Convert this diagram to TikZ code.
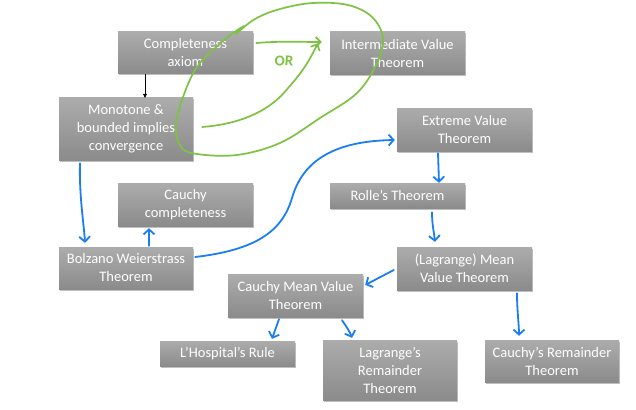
\documentclass[tikz,border=0pt]{standalone}
\usepackage{fontspec}
\setmainfont{Carlito}
\usetikzlibrary{arrows.meta,shadows}
\definecolor{boxtop}{HTML}{ACACAC}
\definecolor{boxbot}{HTML}{8B8B8B}
\definecolor{penB}{HTML}{1A7EF2}
\definecolor{penG}{HTML}{7DC242}
\begin{document}
\begin{tikzpicture}[x=1pt,y=1pt,
  box/.style={rectangle, top color=boxtop, bottom color=boxbot, text=white,
    font=\fontsize{14.5}{18}\selectfont, align=center, inner sep=0pt,
    drop shadow={shadow xshift=1pt, shadow yshift=-1.5pt, opacity=0.25, fill=black}},
  bluearrow/.style={draw=penB, line width=1.8pt, line cap=round, line join=round,
    -{Straight Barb[length=5pt,width=11pt]}},
  greenline/.style={draw=penG, line width=1.7pt, line cap=round, line join=round},
  greenarrow/.style={greenline, -{Straight Barb[length=5pt,width=10pt]}},
  blackarrow/.style={draw=black, line width=0.6pt, -{Triangle[length=4pt,width=4pt]}}
]
\useasboundingbox (0,0) rectangle (636,-409);

\node[box, minimum width=135pt, minimum height=42pt] (comp) at (185.5,-53) {Completeness\\axiom};
\node[box, minimum width=135pt, minimum height=43pt] (ivt) at (397.5,-53.5) {Intermediate Value\\Theorem};
\node[box, minimum width=134pt, minimum height=62pt] (mono) at (126,-129) {Monotone \&\\bounded implies\\convergence};
\node[box, minimum width=135pt, minimum height=43pt] (evt) at (464.5,-129.5) {Extreme Value\\Theorem};
\node[box, minimum width=135pt, minimum height=25pt] (rolle) at (397.5,-195.5) {Rolle’s Theorem};
\node[box, minimum width=135pt, minimum height=43pt] (cc) at (185.5,-204.5) {Cauchy\\completeness};
\node[box, minimum width=134pt, minimum height=42pt] (bw) at (126,-268) {Bolzano Weierstrass\\Theorem};
\node[box, minimum width=135pt, minimum height=43pt] (mvt) at (464.5,-268.5) {(Lagrange) Mean\\Value Theorem};
\node[box, minimum width=135pt, minimum height=43pt] (cmvt) at (295.5,-295.5) {Cauchy Mean Value\\Theorem};
\node[box, minimum width=135pt, minimum height=25pt] (lh) at (227.5,-353.5) {L’Hospital’s Rule};
\node[box, minimum width=134pt, minimum height=60pt] (lr) at (390,-370) {Lagrange’s\\Remainder\\Theorem};
\node[box, minimum width=134pt, minimum height=42pt] (cr) at (552,-361) {Cauchy’s Remainder\\Theorem};

% black arrow
\draw[blackarrow] ([xshift=-40.5pt]comp.south) -- ([xshift=19pt]mono.north);

% green annotations
\draw[greenarrow] ([shift={(3pt,10pt)}]comp.east) .. controls (280,-41) and (300,-42) .. ([shift={(-8pt,11.5pt)}]ivt.west);
\draw[greenarrow] ([shift={(9pt,2pt)}]mono.east) .. controls (240,-124) and (265,-112) .. (282,-95)
   .. controls (295,-80) and (305,-70) .. ([shift={(-12pt,-11.5pt)}]ivt.north west);
\node[text=penG, font=\fontsize{15}{15}\selectfont\bfseries, rotate=-4] (ortext) at (284,-61) {OR};
\draw[greenline] plot[smooth, tension=0.6] coordinates {(244,-26) (236,-31) (222,-42) (197,-67) (182,-100) (176,-127) (181,-147) (197,-154) (237,-155) (280,-143) (320,-118) (357,-93) (377,-63) (383,-38) (372,-17) (348,-5) (313,-3) (280,-9) (255,-19) (236,-34)};

% blue arrows
\draw[bluearrow] ([shift={(-46pt,-3pt)}]mono.south) .. controls (79,-195) and (84,-225) .. ([shift={(-41pt,4pt)}]bw.north);
\draw[bluearrow] ([shift={(23pt,1pt)}]bw.north) -- ([shift={(-36.5pt,-2pt)}]cc.south);
\draw[bluearrow] ([shift={(2pt,11pt)}]bw.east) .. controls (255,-250) and (282,-232) .. (292,-198)
   .. controls (303,-160) and (335,-141) .. ([shift={(-2pt,-10.5pt)}]evt.west);
\draw[bluearrow] ([shift={(-26.5pt,-2pt)}]evt.south) -- ([xshift=41.5pt]rolle.north);
\draw[bluearrow] ([shift={(34.5pt,-4pt)}]rolle.south) .. controls (432,-225) and (434,-232) .. ([shift={(-29.5pt,5pt)}]mvt.north);
\draw[bluearrow] ([shift={(-3pt,-1.5pt)}]mvt.west) -- ([shift={(2pt,10.5pt)}]cmvt.east);
\draw[bluearrow] ([shift={(52.5pt,-3pt)}]mvt.south) .. controls (517,-310) and (519,-325) .. ([shift={(-33pt,4pt)}]cr.north);
\draw[bluearrow] ([shift={(-16.5pt,-2pt)}]cmvt.south) -- ([shift={(44.5pt,2pt)}]lh.north);
\draw[bluearrow] ([shift={(46.5pt,-3pt)}]cmvt.south) .. controls (346,-326) and (350,-332) .. ([shift={(-38pt,2pt)}]lr.north);
\end{tikzpicture}
\end{document}
